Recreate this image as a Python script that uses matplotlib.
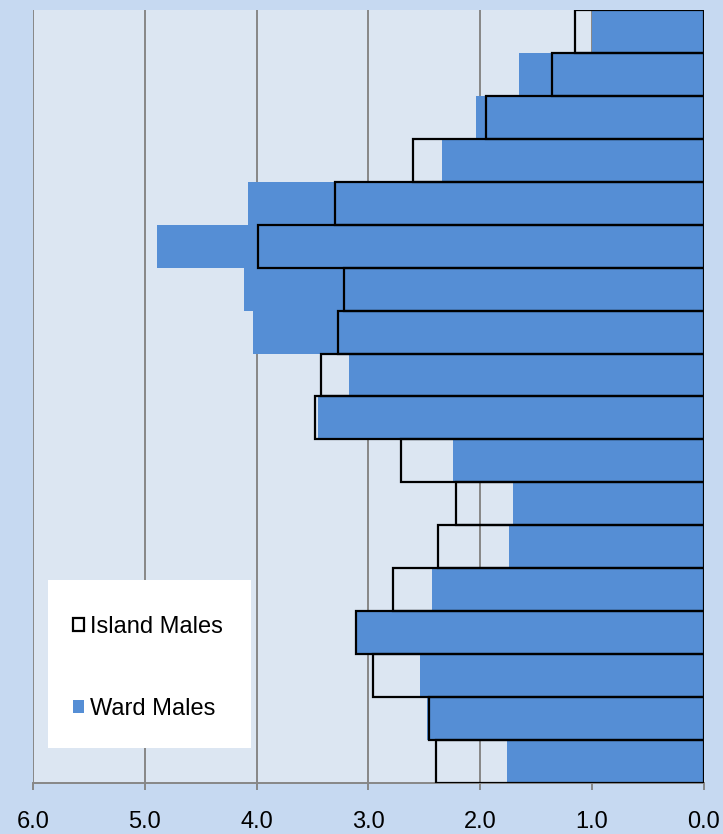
import numpy as np
import matplotlib.pyplot as plt
from matplotlib.patches import Rectangle, Patch

# Age groups, top of chart first (values are % of population)
groups = ['85+', '80-84', '75-79', '70-74', '65-69', '60-64', '55-59', '50-54', '45-49',
          '40-44', '35-39', '30-34', '25-29', '20-24', '15-19', '10-14', '5-9', '0-4']
ward_males = [1.00, 1.65, 2.04, 2.34, 4.08, 4.89, 4.11, 4.03, 3.17,
              3.45, 2.24, 1.71, 1.74, 2.43, 3.10, 2.54, 2.48, 1.76]
island_males = [1.15, 1.36, 1.95, 2.60, 3.30, 3.99, 3.22, 3.27, 3.42,
                3.48, 2.71, 2.22, 2.38, 2.78, 3.11, 2.96, 2.46, 2.40]
x_ticks = [6, 5, 4, 3, 2, 1, 0]

plt.rcParams['font.family'] = ['Liberation Sans', 'DejaVu Sans']

fig = plt.figure(figsize=(7.23, 8.34), dpi=100)
fig.patch.set_facecolor('#C6D9F1')
ax = fig.add_axes([0.0456, 0.0612, 0.928, 0.9268])
ax.set_facecolor('#DCE6F2')

y = np.arange(len(groups))[::-1]
ax.barh(y, ward_males, height=1.0, color='#558ED5', edgecolor='none', zorder=2)
ax.barh(y, island_males, height=1.0, facecolor='none', edgecolor='black',
        linewidth=1.6, zorder=3)

ax.set_xlim(6, 0)
ax.set_ylim(-0.5, len(groups) - 0.5)
ax.set_xticks(x_ticks)
ax.set_xticklabels([f'{v:.1f}' for v in x_ticks], fontsize=17)
ax.set_yticks([])
ax.grid(axis='x', color='#878787', linewidth=1.4, zorder=1)
ax.set_axisbelow(True)
for s in ['top', 'right', 'left']:
    ax.spines[s].set_visible(False)
ax.spines['bottom'].set_color('#878787')
ax.spines['bottom'].set_linewidth(1.4)
ax.tick_params(axis='x', length=5, width=1.4, color='#878787', pad=15)

# legend box
ax.add_patch(Rectangle((0.0224, 0.0453), 0.3025, 0.2173, transform=ax.transAxes,
                       facecolor='white', edgecolor='none', zorder=4))
handles = [Patch(facecolor='white', edgecolor='black', linewidth=1.6, label='Island Males'),
           Patch(facecolor='#558ED5', edgecolor='none', label='Ward Males')]
leg = ax.legend(handles=handles, loc='center left', bbox_to_anchor=(0.059, 0.149),
                frameon=False, fontsize=17, handlelength=0.5, handleheight=0.5,
                handletextpad=0.25, labelspacing=2.55, borderpad=0, borderaxespad=0)
leg.set_zorder(5)

fig.savefig('out.png', dpi=100, facecolor=fig.get_facecolor())
